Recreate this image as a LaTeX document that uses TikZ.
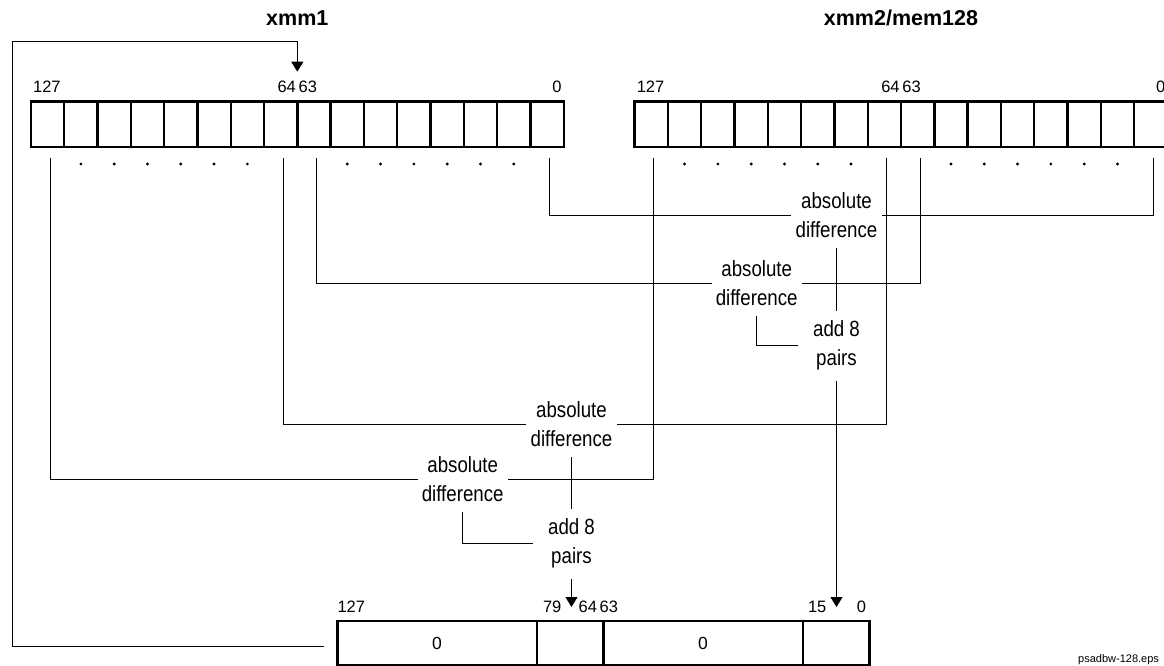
\documentclass[tikz,border=0pt]{standalone}
\usepackage{fontspec}
\setmainfont{Liberation Sans}[FakeStretch=0.85]
\newfontfamily\numfont{Liberation Sans}
\usepackage{tikz}
\usetikzlibrary{arrows.meta,positioning}

\begin{document}
\begin{tikzpicture}[
    x=1pt,y=-1pt,
    cell/.style={rectangle,draw,line width=2.4pt,minimum width=33.3pt,
                 minimum height=45pt,inner sep=0pt,outer sep=0pt},
    op/.style={align=center,inner xsep=4pt,inner ysep=10pt,
               font=\fontsize{22}{29}\selectfont},
    addbox/.style={op,inner xsep=15pt},
    bit/.style={anchor=base west,inner sep=0pt,
                font=\numfont\fontsize{16.5}{20}\selectfont},
    title/.style={anchor=base,inner sep=0pt,
                  font=\numfont\bfseries\fontsize{21.5}{26}\selectfont},
    wire/.style={line width=1pt},
    arr/.style={wire,-{Triangle[width=12pt,length=10pt]}}
  ]
  \useasboundingbox (0,0) rectangle (1164,666);

  % source registers
  \foreach \i in {1,...,16} {
    \node[cell] (xone\i) at ({30.9+33.3*(\i-0.5)},124.2) {};
    \node[cell] (xtwo\i) at ({634.6+33.3*(\i-0.5)},124.2) {};
  }
  \foreach \i in {2,3,4,5,6,7,10,11,12,13,14,15} {
    \fill ([yshift=-17.3pt]xone\i.south) circle (1.6pt);
    \fill ([yshift=-17.3pt]xtwo\i.south) circle (1.6pt);
  }
  \node[title] (tone) at (297.3,26) {xmm1};
  \node[title] (ttwo) at (901,26) {xmm2/mem128};
  \node[bit] (la127) at ([shift={(2pt,9pt)}]xone1.north west) {127};
  \node[bit,anchor=base] (la64) at ([yshift=9pt]xone8.north east) {64\,63};
  \node[bit,anchor=base east] (la0) at ([shift={(-2pt,9pt)}]xone16.north east) {0};
  \node[bit] (lb127) at ([shift={(2pt,9pt)}]xtwo1.north west) {127};
  \node[bit,anchor=base] (lb64) at ([yshift=9pt]xtwo8.north east) {64\,63};
  \node[bit,anchor=base east] (lb0) at ([shift={(-2pt,9pt)}]xtwo16.north east) {0};

  % result register
  \node[cell,minimum width=199.5pt,minimum height=44pt] (r1) at (437.05,643)
    {\numfont\fontsize{17.5}{20}\selectfont 0};
  \node[cell,minimum width=66.5pt,minimum height=44pt,right=0pt of r1] (r2) {};
  \node[cell,minimum width=199.5pt,minimum height=44pt,right=0pt of r2] (r3)
    {\numfont\fontsize{17.5}{20}\selectfont 0};
  \node[cell,minimum width=66.5pt,minimum height=44pt,right=0pt of r3] (r4) {};
  \node[bit] (lr127) at ([yshift=9pt]r1.north west) {127};
  \node[bit] (lr79) at ([shift={(6pt,9pt)}]r2.north west) {79};
  \node[bit,anchor=base] (lr64) at ([shift={(-5pt,9pt)}]r2.north east) {64\,63};
  \node[bit] (lr15) at ([shift={(5pt,9pt)}]r4.north west) {15};
  \node[bit,anchor=base east] (lr0) at ([shift={(-3pt,9pt)}]r4.north east) {0};
  \node[bit,font=\numfont\fontsize{11}{13}\selectfont] (fname) at (1078,662) {psadbw-128.eps};

  % operations
  \node[op] (A1) at (836.5,215) {absolute\\difference};
  \node[op] (A2) at (756.7,283) {absolute\\difference};
  \node[op] (A3) at (571.5,424.3) {absolute\\difference};
  \node[op] (A4) at (462.7,479.3) {absolute\\difference};
  \node[addbox] (S1) at (836.5,345.8) {add 8\\pairs};
  \node[addbox] (S2) at (571.5,543.8) {add 8\\pairs};

  \draw[wire] ([shift={(2.5pt,-11.5pt)}]xone16.south) |- (A1);
  \draw[wire] ([shift={(2.5pt,-11.5pt)}]xtwo16.south) |- (A1);
  \draw[wire] ([shift={(2.5pt,-11.5pt)}]xone9.south) |- (A2);
  \draw[wire] ([shift={(2.5pt,-11.5pt)}]xtwo9.south) |- (A2);
  \draw[wire] ([shift={(2.5pt,-11.5pt)}]xone8.south) |- (A3);
  \draw[wire] ([shift={(2.5pt,-11.5pt)}]xtwo8.south) |- (A3);
  \draw[wire] ([shift={(2.5pt,-11.5pt)}]xone1.south) |- (A4);
  \draw[wire] ([shift={(2.5pt,-11.5pt)}]xtwo1.south) |- (A4);

  \draw[wire] (A1) -- (S1);
  \draw[wire] (A2) |- (S1);
  \draw[wire] (A3) -- (S2);
  \draw[wire] (A4) |- (S2);
  \draw[arr,shorten >=14pt] (S1) -- (S1 |- r4.north);
  \draw[arr,shorten >=14pt] (S2) -- (S2 |- r2.north);

  \coordinate (back) at (12,42);
  \draw[arr] ([shift={(-13pt,-3pt)}]r1.west) -| (back) -| ([yshift=30pt]xone8.north east);
\end{tikzpicture}
\end{document}
